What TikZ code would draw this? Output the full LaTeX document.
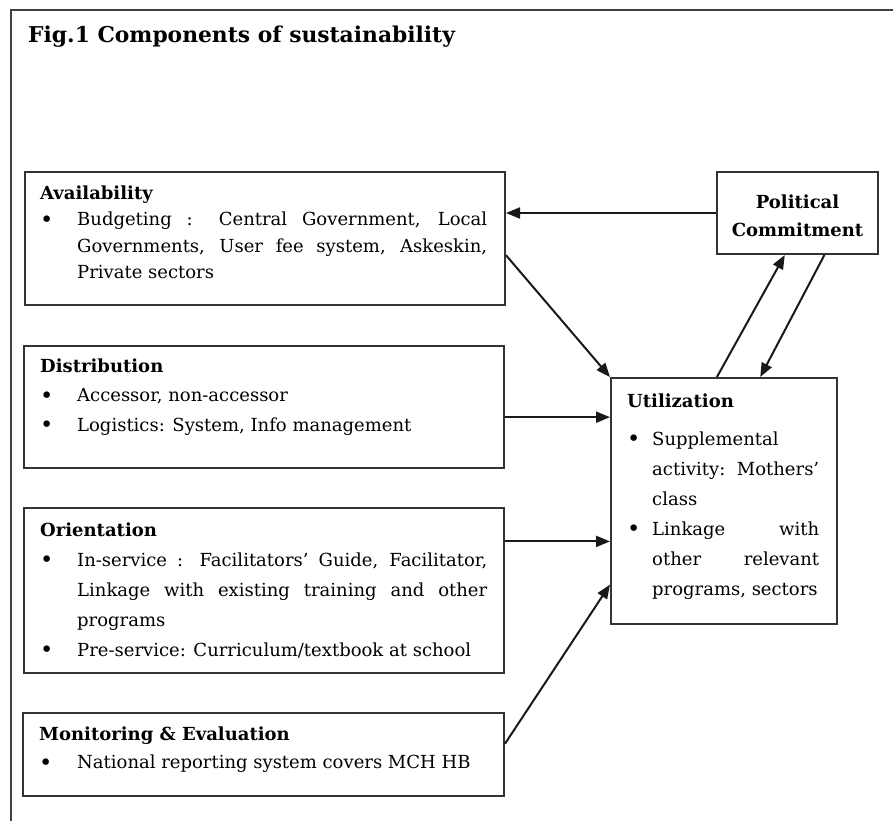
\documentclass[tikz,border=0pt]{standalone}
\usepackage{fontspec}
\setmainfont{DejaVu Serif}
\usetikzlibrary{arrows.meta,calc}
\newcommand\bitem[2]{\par\noindent\hangindent=#1\hangafter=1\makebox[#1][l]{\raisebox{-1.6pt}{\scalebox{1.25}{•}}}#2}
\newcommand\boxtext[3]{\parbox[t]{#1}{\fontsize{18}{#2}\selectfont\tolerance=10000\hbadness=10000\hyphenpenalty=10000\exhyphenpenalty=10000 #3}}
\begin{document}
\begin{tikzpicture}[x=1pt,y=-1pt,
  frame/.style={draw=black!75,line width=2pt},
  bx/.style={draw=black!80,line width=2pt,anchor=north west,inner sep=0pt},
  txt/.style={anchor=base west,inner sep=0pt,align=left},
  arr/.style={draw=black!90,line width=2pt,-{Triangle[length=14pt,width=11pt]}}]
\useasboundingbox (0,0) rectangle (893,821);
% outer frame (top and left only)
\coordinate (fr1) at (893,10);
\coordinate (fr2) at (11,10);
\coordinate (fr3) at (11,821);
\draw[frame] (fr1) -- (fr2) -- (fr3);
% title
\node[txt,font=\bfseries\fontsize{21.8}{25}\selectfont] (title) at (28,43) {Fig.1 Components of sustainability};
% boxes
\node[bx,minimum width=480pt,minimum height=133pt] (avail) at (24,171) {};
\node[bx,minimum width=480pt,minimum height=122pt] (dist) at (23,345) {};
\node[bx,minimum width=480pt,minimum height=165pt] (orient) at (23,507) {};
\node[bx,minimum width=481pt,minimum height=83pt] (me) at (22,712) {};
\node[bx,minimum width=226pt,minimum height=246pt] (util) at (610,377) {};
\node[bx,minimum width=161pt,minimum height=82pt] (pol) at (716,171) {};
% texts
\node[txt] (availT) at (40,199) {\boxtext{447pt}{26.5pt}{\textbf{Availability}\bitem{37pt}{Budgeting : Central Government, Local\linebreak Governments, User fee system, Askeskin,\linebreak Private sectors}}};
\node[txt] (distT) at (40,372) {\boxtext{447pt}{29.5pt}{\textbf{Distribution}\bitem{37pt}{Accessor, non-accessor}\bitem{37pt}{Logistics: System, Info management}}};
\node[txt] (orientT) at (40,536) {\boxtext{447pt}{30pt}{\textbf{Orientation}\bitem{37pt}{In-service : Facilitators’ Guide, Facilitator,\linebreak Linkage with existing training and other\linebreak programs}\bitem{37pt}{Pre-service: Curriculum/textbook at school}}};
\node[txt] (meT) at (39,740) {\boxtext{447pt}{28.5pt}{\textbf{Monitoring \& Evaluation}\bitem{38pt}{National reporting system covers MCH HB}}};
\node[txt] (utilT) at (627,407) {\boxtext{192pt}{30pt}{\textbf{Utilization}\par\vspace{8pt}\bitem{25pt}{Supplemental\linebreak activity: Mothers’\linebreak class}\bitem{25pt}{Linkage with\linebreak other relevant\linebreak programs, sectors}}};
\node[font=\bfseries\fontsize{18}{28}\selectfont,align=center,inner sep=0pt] (polT) at ($(pol.center)+(0,3)$) {Political\\Commitment};
% connectors
\draw[arr] (pol.west) -- (pol.west -| avail.east);
\coordinate (a1) at ($(avail.south east)!0.376!(avail.north east)$);
\draw[arr] (a1) -- (util.north west);
\draw[arr] ($(util.north west)!0.469!(util.north east)$) -- ($(pol.south west)!0.422!(pol.south east)$);
\draw[arr] ($(pol.south west)!0.665!(pol.south east)$) -- ($(util.north west)!0.659!(util.north east)$);
\coordinate (d1) at ($(dist.south east)!0.418!(dist.north east)$);
\draw[arr] (d1) -- (d1 -| util.west);
\coordinate (o1) at ($(orient.south east)!0.794!(orient.north east)$);
\draw[arr] (o1) -- (o1 -| util.west);
\draw[arr] ($(me.south east)!0.627!(me.north east)$) -- ($(util.south west)!0.163!(util.north west)$);
\end{tikzpicture}
\end{document}
